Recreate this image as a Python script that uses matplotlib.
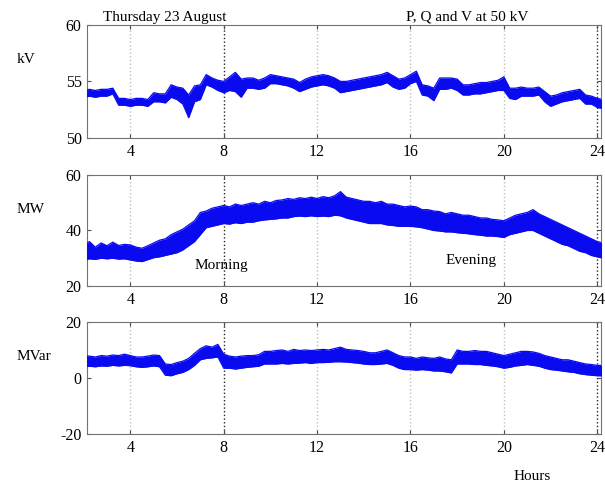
import numpy as np
import matplotlib
matplotlib.use("Agg")
import matplotlib.pyplot as plt

plt.rcParams['font.family'] = ['Liberation Serif', 'DejaVu Serif']
plt.rcParams['axes.unicode_minus'] = False

# sample times (hours), one envelope value pair per quarter hour
hours = np.arange(2.0, 24.26, 0.25)

# voltage band (kV), lower and upper edge of the noisy trace
kv_lo = [53.6, 53.7, 53.6, 53.7, 53.7, 53.9, 52.9, 52.9, 52.8, 52.9, 52.9, 52.8, 53.2, 53.2, 53.1,
         53.6, 53.4, 53.0, 51.8, 53.2, 53.4, 54.7, 54.5, 54.2, 54.0, 54.2, 54.1, 53.6, 54.4,
         54.4, 54.3, 54.4, 54.8, 54.8, 54.7, 54.6, 54.4, 54.1, 54.3, 54.5, 54.6, 54.7, 54.6, 54.4,
         54.0, 54.1, 54.2, 54.3, 54.4, 54.5, 54.6, 54.7, 54.9, 54.5, 54.3, 54.4, 54.8, 55.0, 53.8,
         53.7, 53.3, 54.3, 54.3, 54.4, 54.2, 53.8, 53.8, 53.9, 53.9, 54.0, 54.1, 54.2, 54.2, 53.5,
         53.4, 53.7, 53.7, 53.7, 53.8, 53.2, 52.8, 53.0, 53.2, 53.3, 53.4, 53.5, 53.0, 53.0, 52.7,
         52.6]
kv_hi = [54.2, 54.3, 54.2, 54.3, 54.3, 54.4, 53.5, 53.5, 53.4, 53.5, 53.5, 53.4, 54.0, 53.9, 53.9,
         54.7, 54.5, 54.4, 53.8, 54.6, 54.7, 55.6, 55.3, 55.1, 55.0, 55.4, 55.8, 55.2, 55.3,
         55.3, 55.1, 55.3, 55.6, 55.5, 55.4, 55.3, 55.2, 54.9, 55.2, 55.4, 55.5, 55.6, 55.5, 55.3,
         55.0, 55.0, 55.1, 55.2, 55.3, 55.4, 55.5, 55.6, 55.8, 55.5, 55.2, 55.3, 55.6, 55.9, 54.7,
         54.6, 54.4, 55.3, 55.3, 55.3, 55.2, 54.7, 54.7, 54.8, 54.9, 54.9, 55.0, 55.1, 55.4, 54.4,
         54.4, 54.5, 54.4, 54.4, 54.5, 54.1, 53.7, 53.8, 54.0, 54.1, 54.2, 54.3, 53.8, 53.7, 53.5,
         53.4]

# active power band (MW)
mw_lo = [29.5, 29.8, 29.6, 30.0, 29.8, 30.0, 29.7, 29.8, 29.4, 29.0, 28.8, 29.5, 30.2, 30.5, 31.0,
         31.5, 32.0, 33.0, 34.5, 36.0, 38.5, 41.0, 41.5, 42.0, 42.5, 42.3, 42.8, 42.5, 43.0, 43.0,
         43.5, 43.8, 44.0, 44.2, 44.5, 44.5, 45.0, 45.2, 45.0, 45.3, 45.0, 45.2, 45.0, 45.5, 45.3,
         44.5, 44.0, 43.5, 43.0, 42.5, 42.5, 42.5, 42.0, 41.8, 41.5, 41.5, 41.5, 41.3, 41.0, 40.5,
         40.0, 39.8, 39.5, 39.5, 39.2, 39.0, 38.8, 38.5, 38.3, 38.0, 38.0, 37.8, 37.5, 38.5, 39.0,
         39.5, 40.0, 40.0, 39.0, 38.0, 37.0, 36.0, 35.0, 34.5, 33.5, 32.5, 32.0, 31.0, 30.5, 30.0]
mw_hi = [34.5, 36.0, 34.0, 35.5, 34.5, 35.8, 34.6, 35.0, 34.8, 34.0, 33.6, 34.5, 35.5, 36.5, 37.0,
         38.5, 39.5, 40.5, 42.0, 43.5, 46.5, 47.0, 48.0, 48.5, 49.0, 48.5, 49.5, 49.0, 49.5, 50.0,
         49.5, 50.5, 50.0, 50.8, 51.0, 51.5, 51.2, 51.8, 51.5, 52.0, 51.5, 52.2, 51.8, 52.5, 54.0,
         52.0, 51.5, 51.0, 50.5, 50.5, 50.0, 50.5, 49.5, 49.5, 49.0, 48.5, 48.8, 48.5, 47.5, 47.5,
         47.0, 46.8, 46.0, 46.5, 46.0, 45.5, 45.5, 45.0, 44.5, 44.5, 44.0, 43.8, 43.5, 44.5, 45.5,
         46.0, 46.5, 47.5, 46.0, 45.0, 44.0, 43.0, 42.0, 41.0, 40.0, 39.0, 38.0, 37.0, 36.0, 35.5]

# reactive power band (MVar)
mvar_lo = [4.0, 4.2, 4.0, 4.3, 4.2, 4.5, 4.3, 4.5, 4.4, 4.0, 3.8, 4.0, 4.3, 4.0, 1.0,
           0.8, 1.5, 2.0, 3.0, 4.5, 6.5, 7.0, 7.2, 7.5, 3.5, 3.5, 3.2, 3.5, 3.8, 4.0,
           4.2, 5.0, 5.0, 5.0, 5.2, 5.0, 5.2, 5.3, 5.5, 5.2, 5.5, 5.5, 5.6, 5.8, 5.8,
           5.7, 5.5, 5.3, 5.0, 4.8, 4.8, 5.0, 5.2, 4.5, 3.5, 3.0, 3.0, 2.8, 3.0, 2.8,
           2.5, 2.5, 2.2, 1.8, 5.0, 5.0, 5.0, 4.8, 4.8, 4.5, 4.3, 4.0, 3.5, 3.8, 4.3,
           4.5, 4.8, 4.5, 4.2, 3.5, 3.0, 2.8, 2.5, 2.2, 2.0, 1.5, 1.2, 1.0, 0.8, 0.8]
mvar_hi = [8.0, 7.8, 7.5, 8.0, 7.8, 8.2, 8.0, 8.5, 8.0, 7.5, 7.5, 7.8, 8.2, 8.0, 5.0,
           4.8, 5.5, 6.0, 7.0, 8.8, 10.5, 11.5, 11.0, 12.0, 8.5, 7.8, 7.5, 7.8, 8.0, 8.0,
           8.3, 9.5, 9.5, 9.8, 10.0, 9.5, 10.2, 9.8, 10.0, 9.8, 10.0, 10.2, 10.0, 10.5, 11.0,
           10.2, 10.0, 9.8, 9.5, 9.0, 9.0, 9.5, 10.0, 9.0, 8.0, 7.5, 7.5, 7.0, 7.5, 7.2,
           7.0, 7.5, 6.8, 6.5, 10.0, 9.5, 9.5, 9.8, 9.5, 9.5, 9.0, 8.5, 8.0, 8.5, 9.0,
           9.5, 9.5, 9.3, 8.8, 8.0, 7.5, 7.0, 6.5, 6.5, 6.0, 5.5, 5.0, 4.8, 4.5, 4.5]

xticks = [4, 8, 12, 16, 20, 24]
panels = [
    (kv_lo, kv_hi, (50, 60), [50, 55, 60], 'kV'),
    (mw_lo, mw_hi, (20, 60), [20, 40, 60], 'MW'),
    (mvar_lo, mvar_hi, (-20, 20), [-20, 0, 20], 'MVar'),
]

fig = plt.figure(figsize=(6.05, 4.86), dpi=100)
boxes = [[0.144, 0.716, 0.849, 0.233],
         [0.144, 0.4115, 0.849, 0.2285],
         [0.144, 0.107, 0.849, 0.2305]]

blue = '#0a0af0'
axes = []
for box, (lo, hi, ylim, yt, lab) in zip(boxes, panels):
    ax = fig.add_axes(box)
    ax.fill_between(hours, lo, hi, color=blue, lw=0, zorder=3)
    ax.plot(hours, lo, color=blue, lw=0.9, zorder=3)
    ax.plot(hours, hi, color=blue, lw=0.9, zorder=3)
    ax.set_xlim(2.15, 24.15)
    ax.set_ylim(*ylim)
    ax.set_yticks(yt)
    ax.set_xticks(xticks)
    for t in xticks:
        dark = t in (8, 24)
        ax.axvline(t, color='0.15' if dark else '0.75', ls=':', lw=1.0, zorder=1)
    ax.tick_params(direction='in', top=True, right=True, labelsize=11.5, length=3,
                   color='0.3', pad=4)
    for s in ax.spines.values():
        s.set_color('0.45')
        s.set_linewidth(0.8)
    fig.text(0.028, box[1] + box[3] * 0.69, lab, fontsize=11, ha='left', va='center')
    axes.append(ax)

fig.text(0.273, 0.964, 'Thursday 23 August', fontsize=11, ha='center', va='center')
fig.text(0.773, 0.964, 'P, Q and V at 50 kV', fontsize=11, ha='center', va='center')
axes[1].text(7.9, 27.3, 'Morning', fontsize=11, ha='center', va='center')
axes[1].text(18.6, 29.1, 'Evening', fontsize=11, ha='center', va='center')
fig.text(0.88, 0.02, 'Hours', fontsize=11, ha='center', va='center')

fig.savefig('out.png', dpi=100)
